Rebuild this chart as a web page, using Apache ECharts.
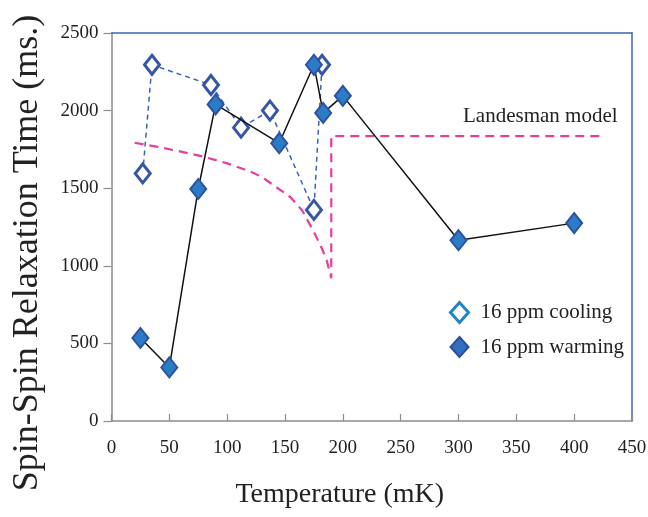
<!DOCTYPE html>
<html>
<head>
<meta charset="utf-8">
<script src="https://cdn.jsdelivr.net/npm/echarts@6/dist/echarts.min.js"></script>
<style>html,body{margin:0;padding:0;background:#fff;}#c{width:648px;height:517px;}</style>
</head>
<body>
<div id="c"></div>
<script>
var xTicks = [0, 50, 100, 150, 200, 250, 300, 350, 400, 450];
var yTicks = [0, 500, 1000, 1500, 2000, 2500];
var coolingT = [27, 35, 86, 112, 137, 175, 182];
var coolingT2 = [1595, 2295, 2165, 1890, 2000, 1360, 2295];
var warmingT = [25, 50, 75, 90, 145, 175, 183, 200, 300, 400];
var warmingT2 = [535, 345, 1495, 2040, 1790, 2295, 1985, 2095, 1165, 1275];
var landesmanT = [20, 40, 60, 80, 100, 120, 130, 140, 155, 165, 175, 182, 186, 190, 190, 427];
var landesmanT2 = [1793, 1766, 1736, 1702, 1660, 1608, 1572, 1520, 1440, 1355, 1218, 1110, 1037, 920, 1835, 1835];

function pairs(a, b) { return a.map(function (v, i) { return [v, b[i]]; }); }

var FONT = "'Liberation Serif', 'Times New Roman', serif";
var GREY = '#8C8C8C', BLUE = '#3F63B5';
var xMin = xTicks[0], xMax = xTicks[xTicks.length - 1];
var yMin = yTicks[0], yMax = yTicks[yTicks.length - 1];
var chart = echarts.init(document.getElementById('c'), null, {renderer: 'canvas'});
chart.setOption({
  animation: false,
  backgroundColor: '#fff',
  grid: {
    left: 111.5, right: 16, top: 33, bottom: 96,
    outerBoundsMode: 'none', containLabel: false, show: false
  },
  xAxis: [{
    type: 'value', min: xMin, max: xMax, interval: 50, position: 'bottom',
    name: 'Temperature (mK)', nameLocation: 'middle', nameGap: 60,
    nameTextStyle: {fontFamily: FONT, fontSize: 28, color: '#222', padding: [0, 64, 0, 0]},
    axisLine: {show: true, onZero: false, lineStyle: {color: GREY, width: 1.5}},
    axisTick: {show: true, inside: true, length: 7, lineStyle: {color: GREY, width: 1.2}},
    axisLabel: {fontFamily: FONT, fontSize: 19, color: '#222', margin: 18, formatter: function (v) { return String(v); }},
    splitLine: {show: false}
  }, {
    type: 'value', min: xMin, max: xMax, position: 'top',
    axisLine: {show: true, onZero: false, lineStyle: {color: BLUE, width: 1.5}},
    axisTick: {show: false}, axisLabel: {show: false}, splitLine: {show: false}
  }],
  yAxis: [{
    type: 'value', min: yMin, max: yMax, interval: 500, position: 'left',
    name: 'Spin-Spin Relaxation Time (ms.)', nameLocation: 'middle', nameGap: 66, nameRotate: 90,
    nameTextStyle: {fontFamily: FONT, fontSize: 36, color: '#222', padding: [0, 52, 0, 0]},
    axisLine: {show: true, onZero: false, lineStyle: {color: GREY, width: 1.5}},
    axisTick: {show: true, inside: false, length: 8, lineStyle: {color: GREY, width: 1.2}},
    axisLabel: {fontFamily: FONT, fontSize: 19, color: '#222', margin: 13, formatter: function (v) { return String(v); }},
    splitLine: {show: false}
  }, {
    type: 'value', min: yMin, max: yMax, position: 'right',
    axisLine: {show: true, onZero: false, lineStyle: {color: BLUE, width: 1.5}},
    axisTick: {show: false}, axisLabel: {show: false}, splitLine: {show: false}
  }],
  legend: {
    orient: 'vertical', left: 444, top: 296, itemGap: 12,
    itemWidth: 18, itemHeight: 20,
    textStyle: {fontFamily: FONT, fontSize: 21, color: '#222', padding: [0, 0, 0, 7]},
    data: [
      {name: '16 ppm cooling', icon: 'diamond', itemStyle: {color: '#fff', borderColor: '#1E86CC', borderWidth: 3}},
      {name: '16 ppm warming', icon: 'diamond', itemStyle: {color: '#2E6FBE', borderColor: '#2F4C9E', borderWidth: 2}}
    ]
  },
  graphic: [{
    type: 'text', left: 463, top: 106,
    style: {text: 'Landesman model', font: '21px ' + FONT, fill: '#222'}
  }],
  series: [
    {
      name: 'Landesman model', type: 'line', data: pairs(landesmanT, landesmanT2),
      showSymbol: false, symbol: 'none', silent: true, z: 1,
      lineStyle: {color: '#E63E9C', width: 2.2, type: [9, 6]}
    },
    {
      name: '16 ppm cooling', type: 'line', data: pairs(coolingT, coolingT2), z: 2,
      symbol: 'diamond', symbolSize: [15, 19], showAllSymbol: true,
      lineStyle: {color: '#3A62B8', width: 1.5, type: [5, 4]},
      itemStyle: {color: '#fff', borderColor: '#3556A8', borderWidth: 3}
    },
    {
      name: '16 ppm warming', type: 'line', data: pairs(warmingT, warmingT2), z: 3,
      symbol: 'diamond', symbolSize: [16, 20], showAllSymbol: true,
      lineStyle: {color: '#111', width: 1.5},
      itemStyle: {color: '#2A7CC7', borderColor: '#2F52A0', borderWidth: 2}
    }
  ]
});
</script>
</body>
</html>
